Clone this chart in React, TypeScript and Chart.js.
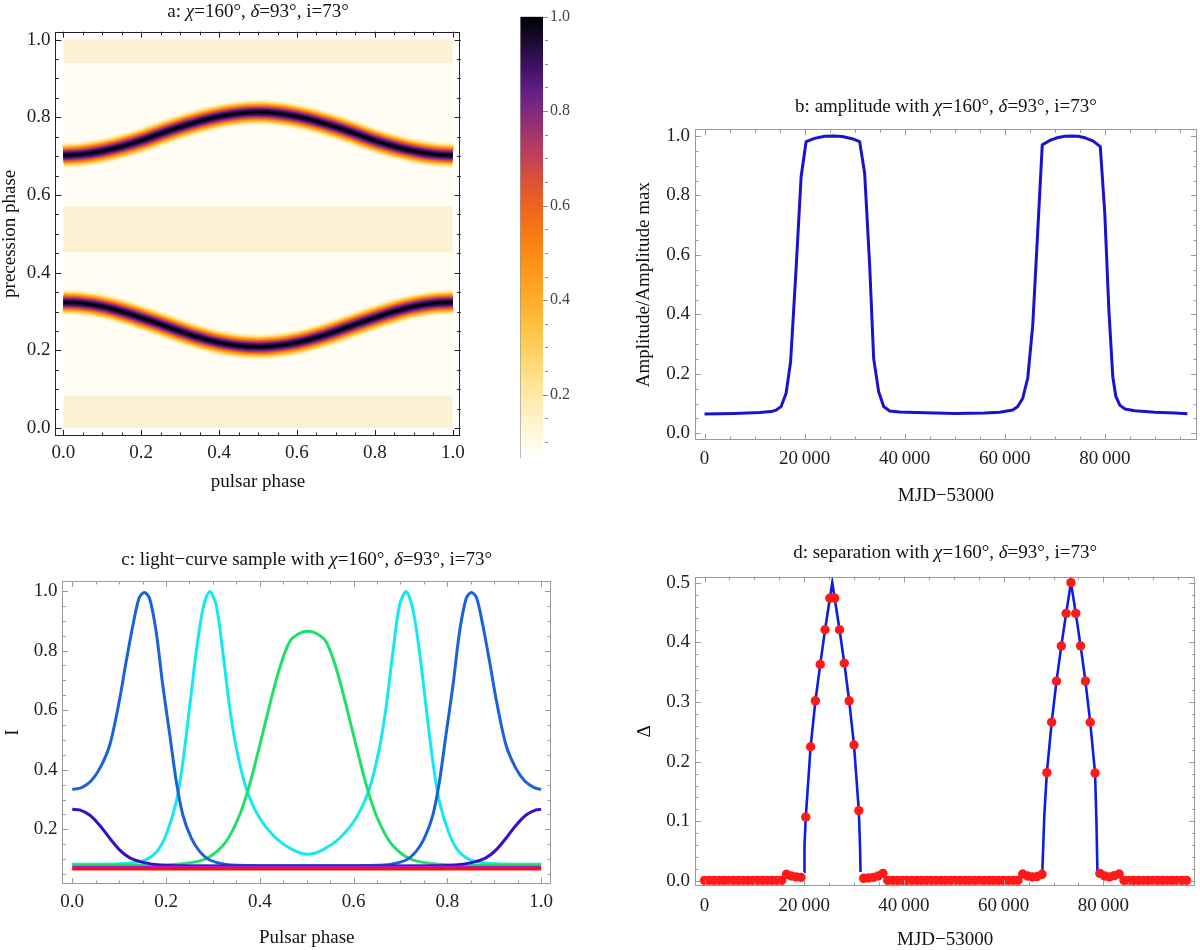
import React, { useEffect, useRef } from "react";
import { Chart, registerables } from "chart.js";

Chart.register(...registerables);

const FONT = "'Liberation Serif', 'Times New Roman', Times, serif";
const FS = 19;

/* ---------------- titles ---------------- */
const PARAMS: [string, boolean][] = [["\u03c7", true], ["=160°, ", false], ["\u03b4", true], ["=93°, i=73°", false]];
const TITLE_A: [string, boolean][] = [["a: ", false], ...PARAMS];
const TITLE_B: [string, boolean][] = [["b: amplitude with ", false], ...PARAMS];
const TITLE_C: [string, boolean][] = [["c: light\u2212curve sample with ", false], ...PARAMS];
const TITLE_D: [string, boolean][] = [["d: separation with ", false], ...PARAMS];

/* ---------------- panel a : density map ---------------- */
const A_DOMAIN = [0, 1];
const A_PHASE = [0, 0.05, 0.1, 0.15, 0.2, 0.25, 0.3, 0.35, 0.4, 0.45, 0.5, 0.55, 0.6, 0.65, 0.7, 0.75, 0.8, 0.85, 0.9, 0.95, 1.0];
const A_UPPER_RIDGE = [0.702, 0.705, 0.713, 0.725, 0.74, 0.758, 0.775, 0.79, 0.802, 0.81, 0.813, 0.81, 0.802, 0.79, 0.775, 0.758, 0.74, 0.725, 0.713, 0.705, 0.702];
const A_LOWER_RIDGE = [0.324, 0.321, 0.313, 0.3, 0.284, 0.267, 0.249, 0.233, 0.22, 0.212, 0.209, 0.212, 0.22, 0.233, 0.249, 0.267, 0.284, 0.3, 0.313, 0.321, 0.324];
const A_BAND_FROM = [0.0, 0.452, 0.94];
const A_BAND_TO = [0.083, 0.571, 1.0];
const A_TICKS = [0, 0.2, 0.4, 0.6, 0.8, 1.0];
const CB_TICKS = [0.2, 0.4, 0.6, 0.8, 1.0];
const CB_MIN = 0.066;
const CB_MAX = 1.0;

/* ---------------- panel b : amplitude ---------------- */
const B_MJD = [0, 6000, 11000, 13300, 14300, 15300, 16300, 17200, 18300, 19300, 20300, 22000, 24000, 25700, 27500, 29500, 31000, 32000, 33000, 33800, 34800, 35800, 37000, 39000, 44000, 50000, 56000, 59000, 61600, 62600, 63600, 64600, 65600, 66600, 67500, 69000, 70500, 72000, 73300, 74700, 76200, 77700, 79100, 80000, 80800, 81600, 82200, 83000, 84000, 86000, 90000, 94000, 96500];
const B_AMP = [0.065, 0.067, 0.07, 0.073, 0.078, 0.09, 0.135, 0.241, 0.555, 0.863, 0.981, 0.992, 0.999, 1.0, 0.998, 0.991, 0.981, 0.875, 0.566, 0.252, 0.14, 0.09, 0.075, 0.072, 0.069, 0.067, 0.068, 0.071, 0.0785, 0.09, 0.118, 0.186, 0.364, 0.68, 0.97, 0.985, 0.994, 0.999, 1.0, 0.999, 0.993, 0.983, 0.964, 0.74, 0.42, 0.19, 0.125, 0.095, 0.082, 0.076, 0.071, 0.068, 0.066];
const MJD_TICKS = [0, 20000, 40000, 60000, 80000];
const B_YTICKS = [0, 0.2, 0.4, 0.6, 0.8, 1.0];

/* ---------------- panel c : light curves ---------------- */
const C_BLUE_X = [0, 0.02, 0.04, 0.06, 0.08, 0.1, 0.115, 0.13, 0.143, 0.154, 0.165, 0.179, 0.193, 0.208, 0.222, 0.236, 0.254, 0.272, 0.293, 0.328, 0.4, 0.5025, 0.605, 0.677, 0.712, 0.733, 0.751, 0.769, 0.783, 0.797, 0.812, 0.826, 0.84, 0.851, 0.862, 0.875, 0.89, 0.905, 0.925, 0.945, 0.965, 0.985, 1.0];
const C_BLUE_Y = [0.334, 0.34, 0.362, 0.408, 0.483, 0.628, 0.763, 0.89, 0.978, 0.995, 0.975, 0.863, 0.684, 0.517, 0.36, 0.248, 0.17, 0.125, 0.097, 0.082, 0.078, 0.078, 0.078, 0.082, 0.097, 0.125, 0.17, 0.248, 0.36, 0.517, 0.684, 0.863, 0.975, 0.995, 0.978, 0.89, 0.763, 0.628, 0.483, 0.408, 0.362, 0.34, 0.334];
const C_CYAN_X = [0, 0.1, 0.15, 0.18, 0.2, 0.222, 0.236, 0.25, 0.2645, 0.279, 0.293, 0.307, 0.321, 0.336, 0.35, 0.371, 0.4, 0.435, 0.471, 0.5025, 0.534, 0.57, 0.605, 0.634, 0.655, 0.669, 0.684, 0.698, 0.712, 0.726, 0.7405, 0.755, 0.769, 0.783, 0.805, 0.825, 0.855, 0.905, 1.0];
const C_CYAN_Y = [0.0825, 0.084, 0.094, 0.125, 0.181, 0.293, 0.427, 0.606, 0.796, 0.942, 0.998, 0.953, 0.796, 0.606, 0.472, 0.338, 0.237, 0.17, 0.131, 0.116, 0.131, 0.17, 0.237, 0.338, 0.472, 0.606, 0.796, 0.953, 0.998, 0.942, 0.796, 0.606, 0.427, 0.293, 0.181, 0.125, 0.094, 0.084, 0.0825];
const C_GREEN_X = [0, 0.186, 0.257, 0.293, 0.328, 0.357, 0.378, 0.4, 0.421, 0.442, 0.4636, 0.485, 0.5025, 0.52, 0.5414, 0.563, 0.584, 0.605, 0.627, 0.648, 0.677, 0.712, 0.748, 0.819, 1.0];
const C_GREEN_Y = [0.08, 0.08, 0.089, 0.108, 0.159, 0.248, 0.349, 0.483, 0.617, 0.74, 0.83, 0.858, 0.865, 0.858, 0.83, 0.74, 0.617, 0.483, 0.349, 0.248, 0.159, 0.108, 0.089, 0.08, 0.08];
const C_INDIGO_X = [0, 0.0156, 0.037, 0.058, 0.08, 0.101, 0.122, 0.151, 0.186, 0.222, 0.5025, 0.783, 0.819, 0.854, 0.883, 0.904, 0.925, 0.947, 0.968, 0.989, 1.0];
const C_INDIGO_Y = [0.267, 0.265, 0.248, 0.2145, 0.17, 0.131, 0.105, 0.089, 0.08, 0.078, 0.077, 0.078, 0.08, 0.089, 0.105, 0.131, 0.17, 0.2145, 0.248, 0.265, 0.267];
const C_FLAT_X = [0, 1];
const C_MAGENTA_Y = [0.073, 0.073];
const C_RED_Y = [0.068, 0.068];
const C_XTICKS = [0, 0.2, 0.4, 0.6, 0.8, 1.0];
const C_YTICKS = [0.2, 0.4, 0.6, 0.8, 1.0];

/* ---------------- panel d : separation ---------------- */
const D_MJD = [
  0, 967, 1934, 2901, 3868, 4835, 5802, 6769, 7736, 8703,
  9670, 10637, 11604, 12571, 13538, 14505, 15472, 16439, 17406, 18373,
  19340, 20307, 21274, 22241, 23208, 24175, 25142, 26109, 27076, 28043,
  29010, 29977, 30944, 31911, 32878, 33845, 34812, 35779, 36746, 37713,
  38680, 39647, 40614, 41581, 42548, 43515, 44482, 45449, 46416, 47383,
  48350, 49317, 50284, 51251, 52218, 53185, 54152, 55119, 56086, 57053,
  58020, 58987, 59954, 60921, 61888, 62855, 63822, 64789, 65756, 66723,
  67690, 68657, 69624, 70591, 71558, 72525, 73492, 74459, 75426, 76393,
  77360, 78327, 79294, 80261, 81228, 82195, 83162, 84129, 85096, 86063,
  87030, 87997, 88964, 89931, 90898, 91865, 92832, 93799, 94766, 95733,
  96700,
];
const D_SEP = [
  0.001, 0.001, 0.001, 0.001, 0.001, 0.001, 0.001, 0.001, 0.001, 0.001,
  0.001, 0.001, 0.001, 0.001, 0.001, 0.001, 0.001, 0.0112, 0.0084, 0.0067,
  0.0061, 0.107, 0.225, 0.302, 0.363, 0.421, 0.474, 0.474, 0.421, 0.365,
  0.302, 0.228, 0.118, 0.0045, 0.005, 0.0061, 0.0084, 0.0128, 0.001, 0.001,
  0.001, 0.001, 0.001, 0.001, 0.001, 0.001, 0.001, 0.001, 0.001, 0.001,
  0.001, 0.001, 0.001, 0.001, 0.001, 0.001, 0.001, 0.001, 0.001, 0.001,
  0.001, 0.001, 0.001, 0.001, 0.001, 0.001, 0.0117, 0.0084, 0.0067, 0.0075,
  0.0112, 0.1815, 0.266, 0.335, 0.394, 0.4486, 0.5, 0.4486, 0.394, 0.335,
  0.266, 0.181, 0.0128, 0.0084, 0.0067, 0.009, 0.0117, 0.001, 0.001, 0.001,
  0.001, 0.001, 0.001, 0.001, 0.001, 0.001, 0.001, 0.001, 0.001, 0.001,
  0.001,
];
const D_LINE1_X = [19960, 20050, 20307, 21274, 22241, 23208, 24175, 25142, 25625, 26109, 27076, 28043, 29010, 29977, 30944, 31180, 31290];
const D_LINE1_Y = [0.015, 0.06, 0.107, 0.225, 0.302, 0.363, 0.421, 0.474, 0.5, 0.474, 0.421, 0.365, 0.302, 0.228, 0.118, 0.06, 0.015];
const D_LINE2_X = [67750, 68150, 68657, 69624, 70591, 71558, 72525, 73492, 74459, 75426, 76393, 77360, 78327, 78600, 78800];
const D_LINE2_Y = [0.015, 0.11, 0.1815, 0.266, 0.335, 0.394, 0.4486, 0.5, 0.4486, 0.394, 0.335, 0.266, 0.181, 0.1, 0.015];
const D_YTICKS = [0, 0.1, 0.2, 0.3, 0.4, 0.5];

/* ---------------- colour map ---------------- */
const INFERNO: [number, string][] = [
  [0.066, "#ffffff"], [0.1, "#fffae6"], [0.15, "#fff2c8"], [0.2, "#fee9a6"], [0.25, "#fede80"],
  [0.3, "#fdcf5c"], [0.35, "#fdbf40"], [0.4, "#fdae2a"], [0.45, "#fd9c1c"], [0.5, "#fb8a12"],
  [0.55, "#f77612"], [0.6, "#ee6320"], [0.65, "#dc5336"], [0.7, "#c34254"], [0.75, "#a3346c"],
  [0.8, "#7f2a80"], [0.85, "#5c1d82"], [0.9, "#3a1060"], [0.95, "#1a0b30"], [1.0, "#000004"],
];
const RIDGE_LEVELS = [0.1, 0.15, 0.2, 0.25, 0.3, 0.35, 0.4, 0.45, 0.5, 0.55, 0.6, 0.65, 0.7, 0.75, 0.8, 0.85, 0.9, 0.95, 1.0];
const RIDGE_SIGMA_PX = 6.3;

function hexRgb(h: string) {
  return [parseInt(h.slice(1, 3), 16), parseInt(h.slice(3, 5), 16), parseInt(h.slice(5, 7), 16)];
}
function colormap(v: number): string {
  const s = INFERNO;
  if (v <= s[0][0]) return s[0][1];
  for (let i = 1; i < s.length; i++) {
    if (v <= s[i][0]) {
      const t = (v - s[i - 1][0]) / (s[i][0] - s[i - 1][0]);
      const a = hexRgb(s[i - 1][1]);
      const b = hexRgb(s[i][1]);
      const c = a.map((av, k) => Math.round(av + (b[k] - av) * t));
      return `rgb(${c[0]},${c[1]},${c[2]})`;
    }
  }
  return s[s.length - 1][1];
}

/* ---------------- helpers ---------------- */
const pts = (xs: number[], ys: number[]) => xs.map((x, i) => ({ x, y: ys[i] }));
const fmt1 = (v: number) => Number(v).toFixed(1);
const fmtMJD = (v: number) => (v === 0 ? "0" : String(Math.round(v)).replace(/\B(?=(\d{3})+(?!\d))/g, "\u2009"));

function linearAxis(o: any) {
  return {
    type: "linear",
    position: o.position,
    min: o.min,
    max: o.max,
    grid: { display: false, drawTicks: false },
    border: { display: false },
    ticks: {
      font: { family: FONT, size: o.fontSize || FS },
      color: o.color || "#222",
      padding: o.pad,
      autoSkip: false,
      maxRotation: 0,
      minRotation: 0,
      callback: (v: number) => o.fmt(v),
    },
    afterBuildTicks: (s: any) => {
      s.ticks = o.ticks.map((v: number) => ({ value: v }));
    },
    afterFit: (s: any) => {
      if (o.position === "bottom") s.height = o.size;
      else s.width = o.size;
    },
    title: o.title
      ? {
          display: true,
          text: o.title,
          font: { family: FONT, size: FS, lineHeight: 1 },
          color: "#111",
          padding: o.position === "bottom" ? { top: 0, bottom: o.titlePad } : { top: o.titlePad, bottom: 0 },
        }
      : { display: false },
  };
}

function titlePlugin(segments: [string, boolean][], y: number) {
  return {
    id: "richTitle",
    afterDraw(chart: any) {
      const ctx = chart.ctx;
      const ca = chart.chartArea;
      const f = (it: boolean) => `${it ? "italic " : ""}${FS}px ${FONT}`;
      ctx.save();
      let total = 0;
      for (const [t, it] of segments) {
        ctx.font = f(it);
        total += ctx.measureText(t).width;
      }
      let x = (ca.left + ca.right) / 2 - total / 2;
      ctx.textBaseline = "middle";
      ctx.textAlign = "left";
      ctx.fillStyle = "#111";
      for (const [t, it] of segments) {
        ctx.font = f(it);
        ctx.fillText(t, x, y);
        x += ctx.measureText(t).width;
      }
      ctx.restore();
    },
  };
}

function frameTicksPlugin(cfg: any) {
  return {
    id: "frameTicks",
    afterDatasetsDraw(chart: any) {
      const ctx = chart.ctx;
      const ca = chart.chartArea;
      const xs = chart.scales.x;
      const ys = chart.scales.y;
      const ML = cfg.majorLen || 6;
      const mL = cfg.minorLen || 3.5;
      const steps = (s: any, step: number) => {
        const out: number[] = [];
        const start = Math.ceil(s.min / step - 1e-9);
        for (let k = start; k * step <= s.max + 1e-9; k++) out.push(k * step);
        return out;
      };
      const isMajor = (v: number, arr: number[]) => arr.some((m) => Math.abs(m - v) < 1e-6 * Math.max(1, Math.abs(m)));
      ctx.save();
      ctx.strokeStyle = cfg.color;
      ctx.lineWidth = 1;
      ctx.beginPath();
      for (const v of steps(xs, cfg.xStep)) {
        const len = isMajor(v, cfg.xMajor) ? ML : mL;
        const p = Math.round(xs.getPixelForValue(v)) + 0.5;
        ctx.moveTo(p, ca.bottom);
        ctx.lineTo(p, ca.bottom - len);
        ctx.moveTo(p, ca.top);
        ctx.lineTo(p, ca.top + len);
      }
      for (const v of steps(ys, cfg.yStep)) {
        const len = isMajor(v, cfg.yMajor) ? ML : mL;
        const p = Math.round(ys.getPixelForValue(v)) + 0.5;
        ctx.moveTo(ca.left, p);
        ctx.lineTo(ca.left + len, p);
        ctx.moveTo(ca.right, p);
        ctx.lineTo(ca.right - len, p);
      }
      ctx.stroke();
      ctx.strokeRect(Math.round(ca.left) + 0.5, Math.round(ca.top) + 0.5, Math.round(ca.right - ca.left) - 1, Math.round(ca.bottom - ca.top) - 1);
      ctx.restore();
    },
  };
}

const colorbarTicksPlugin = {
  id: "cbTicks",
  afterDatasetsDraw(chart: any) {
    const ctx = chart.ctx;
    const ca = chart.chartArea;
    const ys = chart.scales.y;
    ctx.save();
    ctx.strokeStyle = "#888";
    ctx.lineWidth = 1;
    ctx.beginPath();
    for (let k = Math.ceil(CB_MIN / 0.05); k * 0.05 <= CB_MAX + 1e-9; k++) {
      const v = k * 0.05;
      const major = CB_TICKS.some((m) => Math.abs(m - v) < 1e-6);
      const p = Math.round(ys.getPixelForValue(v)) + 0.5;
      ctx.moveTo(ca.right + (major ? 0 : 2), p);
      ctx.lineTo(ca.right + 5, p);
    }
    ctx.stroke();
    ctx.restore();
  },
};

const baseOptions = (padding: any) => ({
  responsive: false,
  animation: false,
  events: [],
  layout: { padding },
  plugins: { legend: { display: false }, tooltip: { enabled: false }, title: { display: false } },
});

/* ---------------- chart configs ---------------- */
function configA(): any {
  const datasets: any[] = [];
  datasets.push({
    data: pts(A_DOMAIN, [1, 1]),
    fill: { value: 0 },
    backgroundColor: "#fffdf4",
    borderColor: "rgba(0,0,0,0)",
    borderWidth: 0,
    pointRadius: 0,
    order: 1000,
  });
  A_BAND_FROM.forEach((lo, i) => {
    datasets.push({
      data: pts(A_DOMAIN, [A_BAND_TO[i], A_BAND_TO[i]]),
      fill: { value: lo },
      backgroundColor: "#fdf1d4",
      borderColor: "rgba(0,0,0,0)",
      borderWidth: 0,
      pointRadius: 0,
      order: 900,
    });
  });
  RIDGE_LEVELS.forEach((lv, j) => {
    const w = Math.max(1.6, 2 * RIDGE_SIGMA_PX * Math.sqrt(-2 * Math.log(lv)));
    [A_UPPER_RIDGE, A_LOWER_RIDGE].forEach((ridge) => {
      datasets.push({
        data: pts(A_PHASE, ridge),
        borderColor: colormap(lv),
        borderWidth: w,
        pointRadius: 0,
        tension: 0.4,
        fill: false,
        borderCapStyle: "butt",
        borderJoinStyle: "round",
        order: 500 - j,
      });
    });
  });
  return {
    type: "line",
    data: { datasets },
    options: {
      ...baseOptions({ top: 31.7, right: 39.3, bottom: 0, left: 0 }),
      scales: {
        x: linearAxis({ position: "bottom", min: -0.0204, max: 1.0204, ticks: A_TICKS, fmt: fmt1, pad: 5.6, size: 64, title: "pulsar phase", titlePad: 8.5 }),
        y: linearAxis({ position: "left", min: -0.0204, max: 1.0204, ticks: A_TICKS, fmt: fmt1, pad: 5, size: 55.4, title: "precession phase", titlePad: 0.5 }),
      },
    },
    plugins: [
      titlePlugin(TITLE_A, 12),
      frameTicksPlugin({ color: "#222", xMajor: A_TICKS, yMajor: A_TICKS, xStep: 0.05, yStep: 0.05 }),
    ],
  };
}

function configColorbar(): any {
  return {
    type: "bar",
    data: {
      labels: [""],
      datasets: [
        {
          data: [[CB_MIN, CB_MAX]],
          backgroundColor: (c: any) => {
            const ch = c.chart;
            const ys = ch.scales && ch.scales.y;
            if (!ys || !ch.chartArea) return "#ffffff";
            const g = ch.ctx.createLinearGradient(0, ys.getPixelForValue(CB_MIN), 0, ys.getPixelForValue(CB_MAX));
            for (const [v, col] of INFERNO) g.addColorStop((v - CB_MIN) / (CB_MAX - CB_MIN), col);
            return g;
          },
          borderColor: "#9a9a9a",
          borderWidth: { left: 1, right: 0, top: 0, bottom: 0 },
          borderSkipped: false,
          barPercentage: 1,
          categoryPercentage: 1,
        },
      ],
    },
    options: {
      ...baseOptions({ top: 10, right: 0, bottom: 22, left: 20 }),
      scales: {
        x: { display: false },
        y: linearAxis({ position: "right", min: CB_MIN, max: CB_MAX, ticks: CB_TICKS, fmt: fmt1, pad: 7, size: 57, fontSize: 16, color: "#444" }),
      },
    },
    plugins: [colorbarTicksPlugin],
  };
}

function configB(): any {
  return {
    type: "line",
    data: {
      datasets: [
        {
          data: pts(B_MJD, B_AMP),
          borderColor: "#1c12cc",
          borderWidth: 3,
          pointRadius: 0,
          tension: 0,
          fill: false,
          borderJoinStyle: "round",
        },
      ],
    },
    options: {
      ...baseOptions({ top: 39.3, right: 3, bottom: 0, left: 0 }),
      scales: {
        x: linearAxis({ position: "bottom", min: -1930, max: 98430, ticks: MJD_TICKS, fmt: fmtMJD, pad: 7.6, size: 70, title: "MJD\u221253000", titlePad: 4.5 }),
        y: linearAxis({ position: "left", min: -0.0225, max: 1.0225, ticks: B_YTICKS, fmt: fmt1, pad: 5, size: 94.9, title: "Amplitude/Amplitude max", titlePad: 34.5 }),
      },
    },
    plugins: [
      titlePlugin(TITLE_B, 17),
      frameTicksPlugin({ color: "#9a9a9a", xMajor: MJD_TICKS, yMajor: B_YTICKS, xStep: 5000, yStep: 0.05 }),
    ],
  };
}

function configC(): any {
  const line = (xs: number[], ys: number[], color: string, w: number, order: number) => ({
    data: pts(xs, ys),
    borderColor: color,
    borderWidth: w,
    pointRadius: 0,
    tension: 0.3,
    fill: false,
    order,
  });
  return {
    type: "line",
    data: {
      datasets: [
        line(C_FLAT_X, C_RED_Y, "#f21212", 3.5, 0),
        line(C_FLAT_X, C_MAGENTA_Y, "#b01ec8", 3, 1),
        line(C_INDIGO_X, C_INDIGO_Y, "#3a0ccc", 3, 2),
        line(C_BLUE_X, C_BLUE_Y, "#1a62dc", 3, 3),
        line(C_GREEN_X, C_GREEN_Y, "#1fe068", 3, 4),
        line(C_CYAN_X, C_CYAN_Y, "#14e8f0", 3, 5),
      ],
    },
    options: {
      ...baseOptions({ top: 51, right: 49, bottom: 0, left: 0 }),
      scales: {
        x: linearAxis({ position: "bottom", min: -0.021, max: 1.021, ticks: C_XTICKS, fmt: fmt1, pad: 6.6, size: 66, title: "Pulsar phase", titlePad: 2.5 }),
        y: linearAxis({ position: "left", min: 0.0164, max: 1.0336, ticks: C_YTICKS, fmt: fmt1, pad: 5, size: 62.4, title: "I", titlePad: 4 }),
      },
    },
    plugins: [
      titlePlugin(TITLE_C, 30),
      frameTicksPlugin({ color: "#9a9a9a", xMajor: C_XTICKS, yMajor: C_YTICKS, xStep: 0.05, yStep: 0.05 }),
    ],
  };
}

function configD(): any {
  const blue = (xs: number[], ys: number[]) => ({
    data: pts(xs, ys),
    borderColor: "#0c1ee0",
    borderWidth: 2.6,
    pointRadius: 0,
    tension: 0,
    fill: false,
    order: 1,
  });
  return {
    type: "line",
    data: {
      datasets: [
        {
          data: pts(D_MJD, D_SEP),
          showLine: false,
          pointRadius: 4.7,
          pointBackgroundColor: "#ff1a1a",
          pointBorderWidth: 0,
          borderColor: "#ff1a1a",
          order: 0,
        },
        blue(D_LINE1_X, D_LINE1_Y),
        blue(D_LINE2_X, D_LINE2_Y),
      ],
    },
    options: {
      ...baseOptions({ top: 46.7, right: 3, bottom: 0, left: 0 }),
      scales: {
        x: linearAxis({ position: "bottom", min: -1930, max: 98430, ticks: MJD_TICKS, fmt: fmtMJD, pad: 8.6, size: 64, title: "MJD\u221253000", titlePad: 0 }),
        y: linearAxis({ position: "left", min: -0.0084, max: 0.51, ticks: D_YTICKS, fmt: fmt1, pad: 5, size: 94.9, title: "\u0394", titlePad: 35.5 }),
      },
    },
    plugins: [
      titlePlugin(TITLE_D, 23),
      frameTicksPlugin({ color: "#9a9a9a", xMajor: MJD_TICKS, yMajor: D_YTICKS, xStep: 5000, yStep: 0.02 }),
    ],
  };
}

const PANELS = [
  { key: "a", left: 0, top: 0, width: 500, height: 500, make: configA },
  { key: "cb", left: 500, top: 0, width: 100, height: 480, make: configColorbar },
  { key: "b", left: 600, top: 90, width: 600, height: 420, make: configB },
  { key: "c", left: 0, top: 530, width: 600, height: 420, make: configC },
  { key: "d", left: 600, top: 530, width: 600, height: 420, make: configD },
];

export default function App() {
  const refs = useRef<(HTMLCanvasElement | null)[]>([]);
  useEffect(() => {
    const charts: any[] = [];
    PANELS.forEach((p, i) => {
      const el = refs.current[i];
      if (el) charts.push(new Chart(el, p.make()));
    });
    return () => charts.forEach((c) => c.destroy());
  }, []);
  return (
    <div style={{ position: "absolute", left: 0, top: 0, width: 1200, height: 950, background: "#fff", overflow: "hidden" }}>
      {PANELS.map((p, i) => (
        <canvas
          key={p.key}
          ref={(el) => {
            refs.current[i] = el;
          }}
          width={p.width}
          height={p.height}
          style={{ position: "absolute", left: p.left, top: p.top, width: p.width, height: p.height }}
        />
      ))}
    </div>
  );
}
